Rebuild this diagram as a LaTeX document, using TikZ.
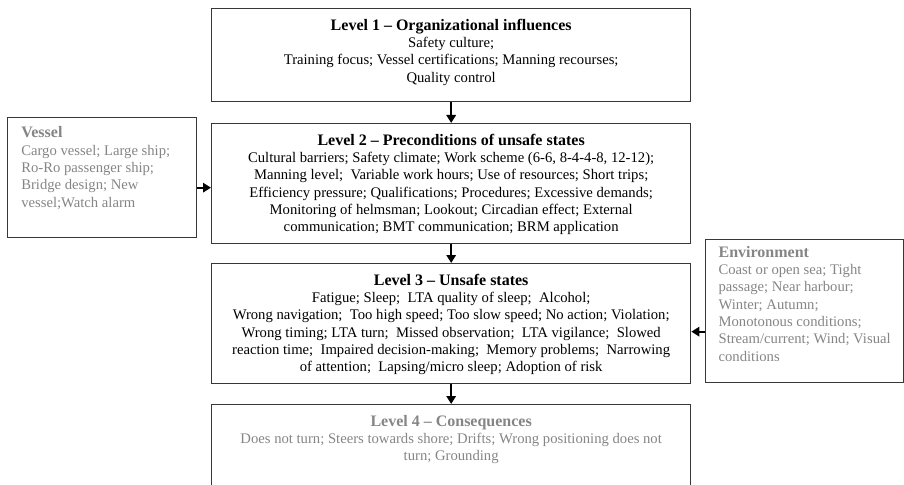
\documentclass[tikz,border=0pt]{standalone}
\usepackage{fontspec}
\setmainfont{Liberation Serif}
\usetikzlibrary{positioning,arrows.meta}
\definecolor{frame}{gray}{0.22}
\definecolor{faded}{gray}{0.52}
\newcommand{\headline}[1]{{\fontsize{12}{13}\selectfont\bfseries #1}}
\begin{document}
\begin{tikzpicture}[x=0.75pt,y=-0.75pt,
  level/.style={draw=frame,line width=1pt,minimum width=359.25pt,anchor=north west,inner sep=0pt},
  side/.style={draw=frame,line width=1pt,anchor=north west,inner sep=0pt},
  words/.style={align=center,inner sep=0pt,font=\fontsize{11}{13}\selectfont},
  sidewords/.style={align=left,inner sep=0pt,text=faded,font=\fontsize{11}{13}\selectfont},
  arr/.style={line width=1.6pt,-{Triangle[width=7pt,length=6pt]}}]
\useasboundingbox (0,0) rectangle (904,485);
\clip (0,0) rectangle (904,485);

\node[level,minimum height=69.75pt] (l1) at (211,8) {};
\node[words,below=8pt of l1.north] (l1txt) {\headline{Level 1 – Organizational influences}\\
Safety culture;\\
Training focus; Vessel certifications; Manning recourses;\\
Quality control};

\node[level,minimum height=90pt] (l2) at (211,123) {};
\node[words,below=8pt of l2.north] (l2txt) {\headline{Level 2 – Preconditions of unsafe states}\\
Cultural barriers; Safety climate; Work scheme (6-6, 8-4-4-8, 12-12);\\
Manning level;\ \ Variable work hours; Use of resources; Short trips;\\
Efficiency pressure; Qualifications; Procedures; Excessive demands;\\
Monitoring of helmsman; Lookout; Circadian effect; External\\
communication; BMT communication; BRM application};

\node[level,minimum height=90pt] (l3) at (211,263) {};
\node[words,below=8pt of l3.north] (l3txt) {\headline{Level 3 – Unsafe states}\\
Fatigue; Sleep;\ \ LTA quality of sleep;\ \ Alcohol;\\
Wrong navigation;\ \ Too high speed; Too slow speed; No action; Violation;\\
Wrong timing; LTA turn;\ \ Missed observation;\ \ LTA vigilance;\ \ Slowed\\
reaction time;\ \ Impaired decision-making;\ \ Memory problems;\ \ Narrowing\\
of attention;\ \ Lapsing/micro sleep; Adoption of risk};

\node[level,minimum height=75pt] (l4) at (211,404) {};
\node[words,text=faded,below=8pt of l4.north] (l4txt) {\headline{Level 4 – Consequences}\\
Does not turn; Steers towards shore; Drifts; Wrong positioning does not\\
turn; Grounding};

\node[side,minimum width=141.75pt,minimum height=90pt] (vessel) at (7,117) {};
\node[sidewords,below right=7pt and 10.5pt of vessel.north west] (vesseltxt) {\headline{Vessel}\\
Cargo vessel; Large ship;\\
Ro-Ro passenger ship;\\
Bridge design; New\\
vessel;Watch alarm};

\node[side,minimum width=148.5pt,minimum height=107.25pt] (env) at (705,239) {};
\node[sidewords,below right=5pt and 10pt of env.north west] (envtxt) {\headline{Environment}\\
Coast or open sea; Tight\\
passage; Near harbour;\\
Winter; Autumn;\\
Monotonous conditions;\\
Stream/current; Wind; Visual\\
conditions};

\draw[arr] (l1) -- (l2);
\draw[arr] (l2) -- (l3);
\draw[arr] (l3) -- (l4);
\draw[arr] ([yshift=-3pt]vessel.east |- l2.center) -- ([yshift=-3pt]l2.west);
\draw[arr] ([yshift=-6pt]env.west |- l3.center) -- ([yshift=-6pt]l3.east);
\end{tikzpicture}
\end{document}
